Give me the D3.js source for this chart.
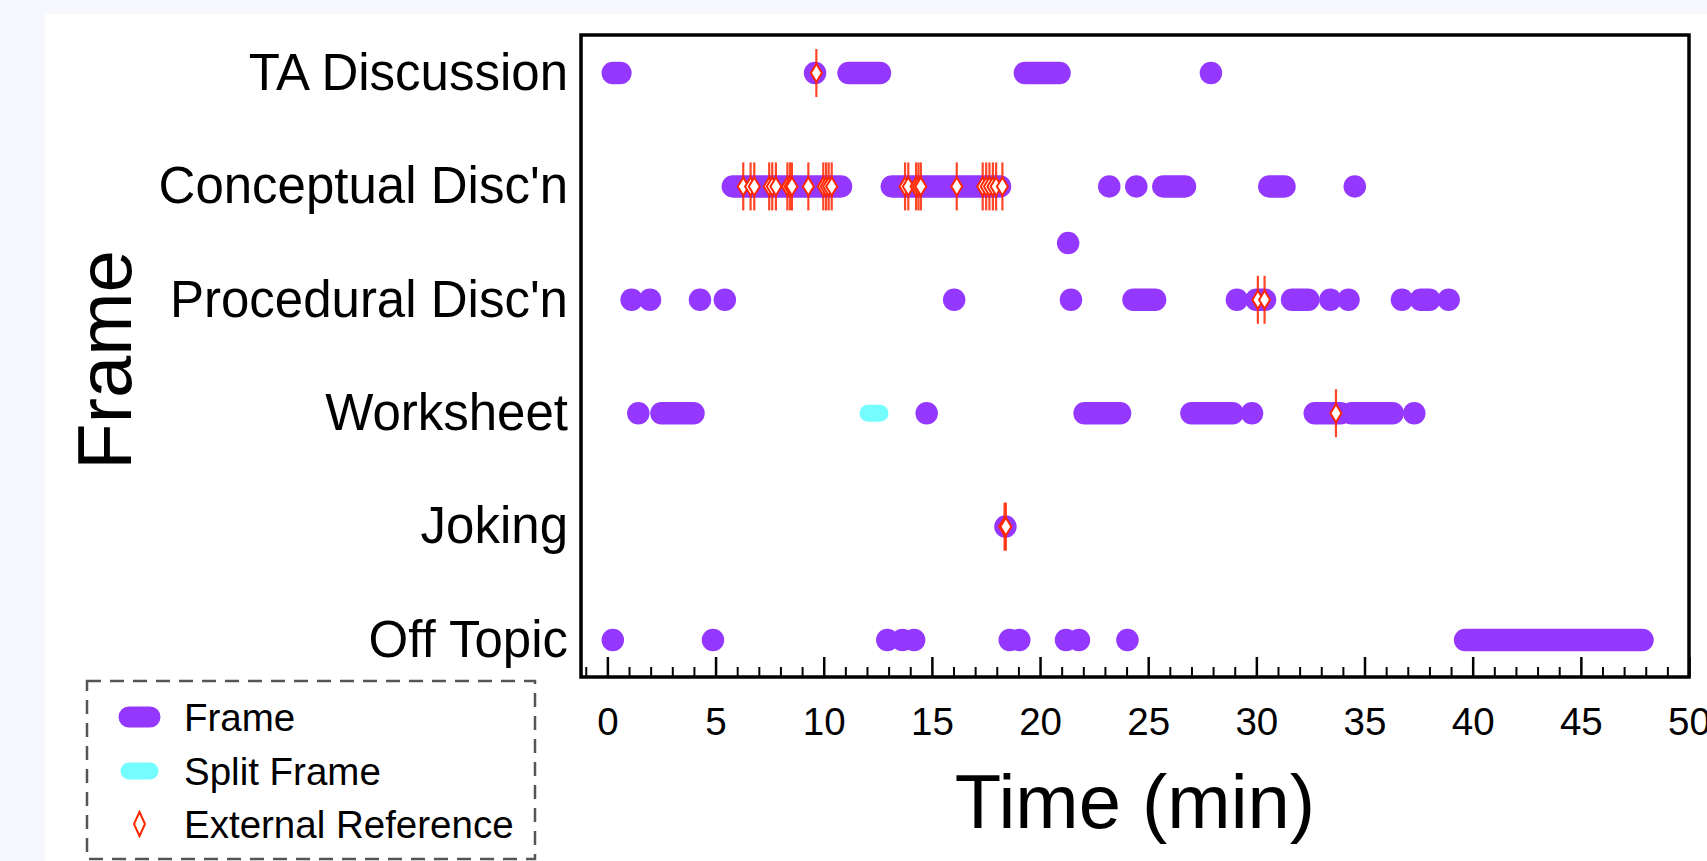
<!DOCTYPE html>
<html>
<head>
<meta charset="utf-8">
<script src="https://cdn.jsdelivr.net/npm/d3@7"></script>
<style>
  html, body { margin: 0; padding: 0; background: #f7f8fd; overflow: hidden; }
  text { font-family: "Liberation Sans", Arial, Helvetica, sans-serif; }
</style>
</head>
<body>
<div id="chart"></div>
<script>
// frame categories, bottom to top (level 1..6)
let frames = ["Off Topic", "Joking", "Worksheet", "Procedural Disc'n", "Conceptual Disc'n", "TA Discussion"];
let frameLevels = [1, 2, 3, 4, 5, 6];

// [level, start min, end min]  (start == end -> single dot)
let frameSegments = [
    [6, 0.25, 0.6], [6, 9.6, 9.6], [6, 11.15, 12.6], [6, 19.3, 20.9], [6, 27.9, 27.9],
    [5, 5.8, 10.8], [5, 13.15, 18.15], [5, 23.2, 23.2], [5, 24.45, 24.45], [5, 25.7, 26.7],
    [5, 30.6, 31.3], [5, 34.55, 34.55],
    [4.5, 21.3, 21.3],
    [4, 1.12, 1.12], [4, 1.97, 1.97], [4, 4.28, 4.28], [4, 5.43, 5.43], [4, 16.03, 16.03],
    [4, 21.43, 21.43], [4, 24.32, 25.32], [4, 29.1, 29.1], [4, 30.0, 30.4], [4, 31.65, 32.4],
    [4, 33.42, 33.42], [4, 34.26, 34.26], [4, 36.73, 36.73], [4, 37.6, 38.0], [4, 38.89, 38.89],
    [3, 1.43, 1.43], [3, 2.5, 3.98], [3, 14.76, 14.76], [3, 22.06, 23.7], [3, 27.0, 28.9],
    [3, 29.8, 29.8], [3, 32.7, 33.9], [3, 34.4, 36.3], [3, 37.3, 37.3],
    [2, 18.4, 18.4],
    [1, 0.25, 0.25], [1, 4.88, 4.88], [1, 12.94, 12.94], [1, 13.64, 13.64], [1, 14.18, 14.18],
    [1, 18.6, 18.6], [1, 19.04, 19.04], [1, 21.2, 21.2], [1, 21.8, 21.8], [1, 24.04, 24.04],
    [1, 39.65, 47.85]
];

let splitSegments = [
    [3, 12.05, 12.6]
];

// [level, time of external reference]
let externalRefs = [
    [6, 9.66],
    [5, 6.28], [5, 6.62], [5, 6.79], [5, 7.48], [5, 7.62], [5, 7.79], [5, 8.32], [5, 8.44],
    [5, 8.53], [5, 9.29], [5, 9.98], [5, 10.11], [5, 10.23], [5, 10.37],
    [5, 13.76], [5, 13.91], [5, 14.27], [5, 14.38], [5, 14.49], [5, 16.15],
    [5, 17.35], [5, 17.51], [5, 17.66], [5, 17.82], [5, 17.97], [5, 18.26],
    [4, 30.07], [4, 30.38],
    [3, 33.68],
    [2, 18.36], [2, 18.42]
];

let xTicks = [0, 5, 10, 15, 20, 25, 30, 35, 40, 45, 50];
let xMinorTicks = d3.range(-1, 51).filter(d => d % 5 !== 0);

let legendItems = ["Frame", "Split Frame", "External Reference"];

let width = 1707;
let height = 861;
let plot = { left: 581, right: 1689, top: 35, bottom: 677 };

let purple = "#9437ff";
let cyan = "#73fdff";
let red = "#ff2600";

let svg = d3.select("#chart").append("svg")
    .attr("width", width)
    .attr("height", height);

// white page area
svg.append("rect")
    .attr("x", 45).attr("y", 14)
    .attr("width", width - 45).attr("height", height - 14)
    .attr("fill", "#ffffff");

let x = d3.scaleLinear().domain([-1.22, 50]).range([plot.left, plot.right]);
let y = d3.scaleLinear().domain([0.674, 6.335]).range([plot.bottom, plot.top]);

// frame segments
svg.append("g").selectAll("line").data(frameSegments).enter().append("line")
    .attr("x1", d => x(d[1])).attr("x2", d => x(d[2]))
    .attr("y1", d => y(d[0])).attr("y2", d => y(d[0]))
    .attr("stroke", purple)
    .attr("stroke-width", 22.5)
    .attr("stroke-linecap", "round");

svg.append("g").selectAll("line").data(splitSegments).enter().append("line")
    .attr("x1", d => x(d[1])).attr("x2", d => x(d[2]))
    .attr("y1", d => y(d[0])).attr("y2", d => y(d[0]))
    .attr("stroke", cyan)
    .attr("stroke-width", 17)
    .attr("stroke-linecap", "round");

// external reference markers
let gRef = svg.append("g");
gRef.selectAll("line").data(externalRefs).enter().append("line")
    .attr("x1", d => x(d[1])).attr("x2", d => x(d[1]))
    .attr("y1", d => y(d[0]) - 24).attr("y2", d => y(d[0]) + 24)
    .attr("stroke", red)
    .attr("stroke-width", 2.2)
    .attr("stroke-opacity", 0.85);

function diamond (w, h) {
    return `M0,${-h}L${w},0L0,${h}L${-w},0Z`;
}
gRef.selectAll("path").data(externalRefs).enter().append("path")
    .attr("d", diamond(5.5, 9))
    .attr("transform", d => `translate(${x(d[1])},${y(d[0])})`)
    .attr("fill", "#ffffff")
    .attr("stroke", red)
    .attr("stroke-width", 2);

// x axis: major + minor ticks, pointing inwards
let gMinor = svg.append("g").attr("transform", `translate(0,${plot.bottom})`);
gMinor.call(d3.axisBottom(x).tickValues(xMinorTicks).tickSize(-10).tickFormat(""));
gMinor.select(".domain").remove();
gMinor.selectAll("line").attr("stroke", "#000").attr("stroke-width", 2);

let gX = svg.append("g").attr("transform", `translate(0,${plot.bottom})`);
gX.call(d3.axisBottom(x).tickValues(xTicks).tickSize(-20).tickPadding(31).tickFormat(d3.format("d")));
gX.select(".domain").remove();
gX.selectAll("line").attr("stroke", "#000").attr("stroke-width", 2.5);
gX.selectAll("text")
    .attr("font-size", 38.5)
    .attr("fill", "#000")
    .style("font-family", "'Liberation Sans', Arial, sans-serif");

// y axis category labels
let gY = svg.append("g").attr("transform", `translate(${plot.left},0)`);
gY.call(d3.axisLeft(y).tickValues(frameLevels).tickSize(0).tickPadding(13)
    .tickFormat(d => frames[d - 1]));
gY.select(".domain").remove();
gY.selectAll("text")
    .attr("font-size", 51)
    .attr("fill", "#000")
    .style("font-family", "'Liberation Sans', Arial, sans-serif");

// plot frame
svg.append("rect")
    .attr("x", plot.left).attr("y", plot.top)
    .attr("width", plot.right - plot.left).attr("height", plot.bottom - plot.top)
    .attr("fill", "none")
    .attr("stroke", "#000")
    .attr("stroke-width", 3.5);

// axis titles
svg.append("text")
    .attr("x", (plot.left + plot.right) / 2)
    .attr("y", 828)
    .attr("text-anchor", "middle")
    .attr("font-size", 76)
    .text("Time (min)");

svg.append("text")
    .attr("transform", `translate(131,${(plot.top + plot.bottom) / 2 + 4}) rotate(-90)`)
    .attr("text-anchor", "middle")
    .attr("font-size", 76)
    .text("Frame");

// legend
let gLegend = svg.append("g");
gLegend.append("rect")
    .attr("x", 87).attr("y", 681)
    .attr("width", 448).attr("height", 178)
    .attr("fill", "none")
    .attr("stroke", "#555")
    .attr("stroke-width", 2.5)
    .attr("stroke-dasharray", "14,9");

let legendY = [717, 771, 824];
gLegend.append("line")
    .attr("x1", 129).attr("x2", 150)
    .attr("y1", legendY[0]).attr("y2", legendY[0])
    .attr("stroke", purple).attr("stroke-width", 21).attr("stroke-linecap", "round");
gLegend.append("line")
    .attr("x1", 129).attr("x2", 150)
    .attr("y1", legendY[1]).attr("y2", legendY[1])
    .attr("stroke", cyan).attr("stroke-width", 17).attr("stroke-linecap", "round");
gLegend.append("path")
    .attr("d", diamond(5.5, 12))
    .attr("transform", `translate(139.5,${legendY[2]})`)
    .attr("fill", "#fff").attr("stroke", red).attr("stroke-width", 2);

gLegend.selectAll("text.leg").data(legendItems).enter().append("text")
    .attr("class", "leg")
    .attr("x", 184)
    .attr("y", (d, i) => legendY[i])
    .attr("dy", "0.36em")
    .attr("font-size", 38.5)
    .text(d => d);
</script>
</body>
</html>
